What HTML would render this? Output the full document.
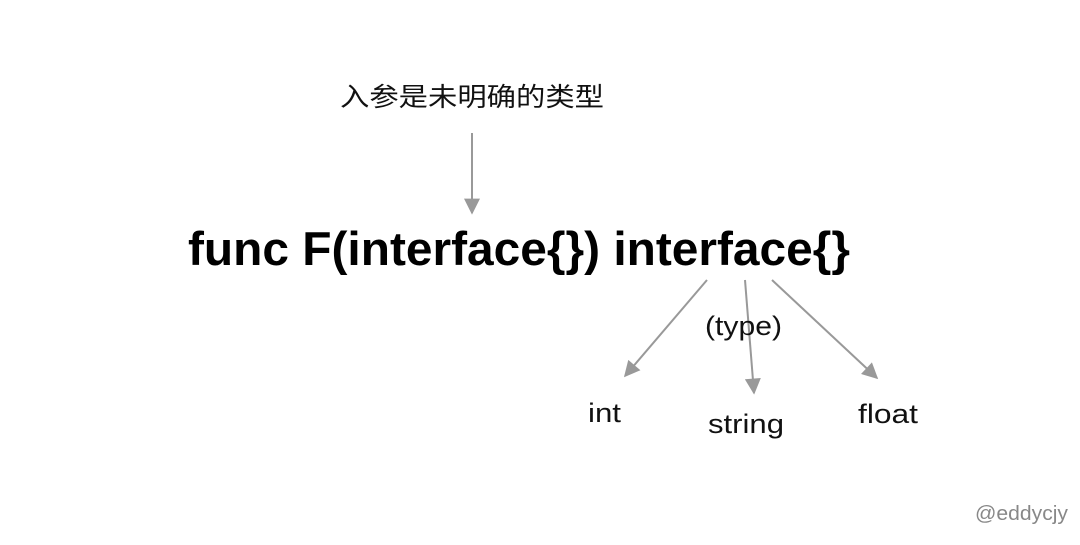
<!DOCTYPE html>
<html><head><meta charset="utf-8"><style>body{margin:0;background:#fff}</style></head><body>
<svg width="1080" height="540" xmlns="http://www.w3.org/2000/svg">
<defs>
<marker id="b" viewBox="0 0 10 10" markerWidth="18" markerHeight="16" refX="9" refY="5" orient="auto" markerUnits="userSpaceOnUse"><path d="M0,0 L10,5 L0,10 Z" fill="#999"/></marker></defs>
<text x="340" y="106" font-family="Liberation Sans, Noto Sans CJK SC, sans-serif" font-size="26" fill="#111" textLength="264" lengthAdjust="spacingAndGlyphs">入参是未明确的类型</text>
<line x1="472" y1="133" x2="472" y2="213" stroke="#999" stroke-width="2" marker-end="url(#b)"/>
<text x="188" y="265" font-family="Liberation Sans, sans-serif" font-weight="bold" font-size="47" fill="#000" textLength="662" lengthAdjust="spacingAndGlyphs">func F(interface{}) interface{}</text>
<line x1="707" y1="280" x2="625" y2="376" stroke="#999" stroke-width="2" marker-end="url(#b)"/>
<line x1="745" y1="280" x2="754" y2="393" stroke="#999" stroke-width="2" marker-end="url(#b)"/>
<line x1="772" y1="280" x2="877" y2="378" stroke="#999" stroke-width="2" marker-end="url(#b)"/>
<text x="705" y="335" font-family="Liberation Sans, sans-serif" font-size="27" fill="#111" textLength="77" lengthAdjust="spacingAndGlyphs">(type)</text>
<text x="588" y="422" font-family="Liberation Sans, sans-serif" font-size="27" fill="#111" textLength="33" lengthAdjust="spacingAndGlyphs">int</text>
<text x="708" y="433" font-family="Liberation Sans, sans-serif" font-size="27" fill="#111" textLength="76" lengthAdjust="spacingAndGlyphs">string</text>
<text x="858" y="423" font-family="Liberation Sans, sans-serif" font-size="27" fill="#111" textLength="60" lengthAdjust="spacingAndGlyphs">float</text>
<text x="975" y="520" font-family="Liberation Sans, sans-serif" font-size="20" fill="#888" textLength="93" lengthAdjust="spacingAndGlyphs">@eddycjy</text>
</svg>
</body></html>
